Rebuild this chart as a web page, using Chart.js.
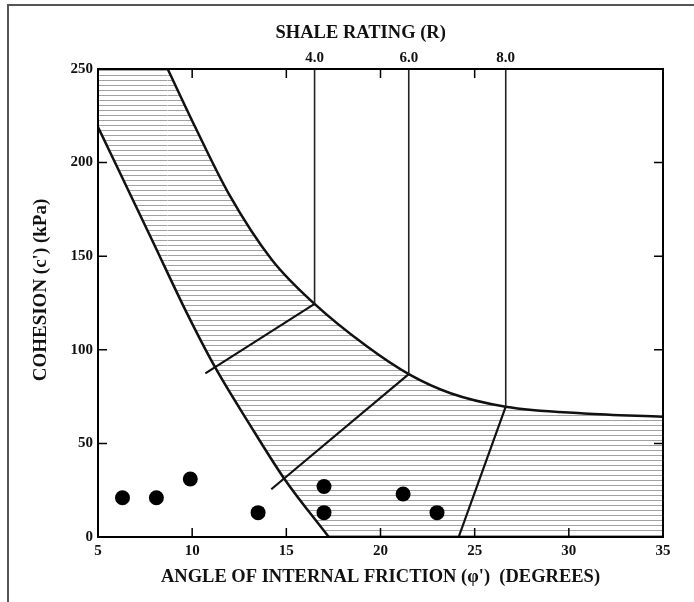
<!DOCTYPE html>
<html>
<head>
<meta charset="utf-8">
<script src="https://cdn.jsdelivr.net/npm/chart.js@4.4.1/dist/chart.umd.min.js"></script>
<style>
  html, body { margin: 0; padding: 0; background: #fff; }
  #wrap { width: 694px; height: 602px; }
</style>
</head>
<body>
<div id="wrap"><canvas id="shaleChart" width="694" height="602"></canvas></div>
<script>
// axes: angle of internal friction (deg) vs cohesion (kPa)
const xTicks = [5, 10, 15, 20, 25, 30, 35];
const yTicks = [0, 50, 100, 150, 200, 250];
const topTicks = [10, 15, 20, 25];

// test results (black dots)
const samplePhi = [6.3, 8.1, 9.9, 13.5, 17.0, 17.0, 21.2, 23.0];
const sampleC = [21, 21, 31, 13, 27, 13, 23, 13];

// upper limit of the hatched band
const upperPhi = [8.7, 10.16, 11.93, 14.24, 16.5, 19.29, 21.5, 23.72, 26.65, 30.8, 35.0];
const upperC = [250, 219, 183.6, 148, 124.5, 101.7, 87, 76.8, 69.6, 66, 64.3];

// lower limit of the hatched band
const lowerPhi = [5.0, 7.9, 9.7, 11.2, 13.0, 14.9, 17.25];
const lowerC = [219, 158, 120, 91, 61, 31, 0];

// shale rating lines
const shaleLabels = ['4.0', '6.0', '8.0'];
const shalePhi = [16.5, 21.5, 26.65];
const shaleC = [124.5, 87, 69.6];
const rayEndPhi = [10.7, 14.2, 24.15];
const rayEndC = [87.4, 25.5, 0];

const ink = '#111';
const serif = '"Liberation Serif", "Times New Roman", serif';

function hatchPattern() {
  const c = document.createElement('canvas');
  c.width = 8; c.height = 5;
  const g = c.getContext('2d');
  g.fillStyle = 'rgba(70,70,70,0.5)';
  g.fillRect(0, 0, 8, 1);
  return g.createPattern(c, 'repeat');
}
const hatch = hatchPattern();

const datasets = [
  // dots on top
  {
    type: 'scatter', order: 0,
    data: samplePhi.map((x, i) => ({x, y: sampleC[i]})),
    pointRadius: 7.5, pointBackgroundColor: '#000', pointBorderWidth: 0
  },
  // upper curve, hatched below
  {
    type: 'line', order: 10,
    data: upperPhi.map((x, i) => ({x, y: upperC[i]})),
    borderColor: ink, borderWidth: 2.5, pointRadius: 0,
    cubicInterpolationMode: 'monotone',
    backgroundColor: hatch, fill: 'start'
  },
  // corner left of the upper curve, hatched too
  {
    type: 'line', order: 11,
    data: [{x: 5, y: 250}, {x: upperPhi[0], y: 250}],
    borderWidth: 0, borderColor: 'rgba(0,0,0,0)', pointRadius: 0,
    backgroundColor: hatch, fill: 'start'
  },
  // lower curve, blank below
  {
    type: 'line', order: 9,
    data: lowerPhi.map((x, i) => ({x, y: lowerC[i]})),
    borderColor: ink, borderWidth: 2.5, pointRadius: 0,
    cubicInterpolationMode: 'monotone',
    backgroundColor: '#fff', fill: 'start'
  }
];

shalePhi.forEach((x, i) => {
  datasets.push({
    type: 'line', order: 2,
    data: [{x, y: 250}, {x, y: shaleC[i]}],
    borderColor: '#222', borderWidth: 1.6, pointRadius: 0, fill: false
  });
  datasets.push({
    type: 'line', order: 2,
    data: [{x, y: shaleC[i]}, {x: rayEndPhi[i], y: rayEndC[i]}],
    borderColor: ink, borderWidth: 2.2, pointRadius: 0, fill: false
  });
});

const extras = {
  id: 'extras',
  beforeDraw(chart) {
    const ctx = chart.ctx;
    ctx.save();
    ctx.strokeStyle = '#555';
    ctx.lineWidth = 2;
    ctx.beginPath();
    ctx.moveTo(8, 602);
    ctx.lineTo(8, 5);
    ctx.lineTo(694, 5);
    ctx.stroke();
    ctx.restore();
  },
  afterDatasetsDraw(chart) {
    const {ctx, chartArea: a, scales} = chart;
    ctx.save();
    ctx.strokeStyle = '#000';
    ctx.lineWidth = 2;
    ctx.strokeRect(a.left, a.top, a.right - a.left, a.bottom - a.top);
    ctx.lineWidth = 1.5;
    ctx.beginPath();
    xTicks.slice(1, -1).forEach(v => {
      const px = scales.x.getPixelForValue(v);
      ctx.moveTo(px, a.bottom); ctx.lineTo(px, a.bottom - 9);
    });
    topTicks.forEach(v => {
      const px = scales.x2.getPixelForValue(v);
      ctx.moveTo(px, a.top); ctx.lineTo(px, a.top + 9);
    });
    yTicks.slice(1, -1).forEach(v => {
      const py = scales.y.getPixelForValue(v);
      ctx.moveTo(a.left, py); ctx.lineTo(a.left + 9, py);
      ctx.moveTo(a.right, py); ctx.lineTo(a.right - 9, py);
    });
    ctx.stroke();

    ctx.fillStyle = ink;
    ctx.textAlign = 'center';
    ctx.textBaseline = 'middle';
    ctx.font = 'bold 18.5px ' + serif;
    ctx.fillText('SHALE RATING (R)', a.left + (a.right - a.left) * 0.465, 33);
    ctx.translate(41, 290);
    ctx.rotate(-Math.PI / 2);
    ctx.font = 'bold 19px ' + serif;
    ctx.fillText("COHESION (c') (kPa)", 0, 0);
    ctx.restore();
  }
};

new Chart(document.getElementById('shaleChart'), {
  type: 'scatter',
  data: { datasets },
  options: {
    responsive: false,
    animation: false,
    layout: { padding: 0 },
    plugins: { legend: { display: false }, tooltip: { enabled: false } },
    scales: {
      x: {
        type: 'linear', position: 'bottom', min: 5, max: 35,
        afterBuildTicks: s => { s.ticks = xTicks.map(v => ({value: v})); },
        afterFit: s => { s.height = 65; },
        grid: { drawOnChartArea: false, drawTicks: false },
        border: { color: '#000', width: 2 },
        ticks: { color: ink, padding: 5, font: { family: serif, size: 15, weight: 'bold' } },
        title: {
          display: true,
          text: "ANGLE OF INTERNAL FRICTION (\u03c6')  (DEGREES)",
          color: ink,
          font: { family: serif, size: 18.5, weight: 'bold' },
          padding: { top: 0, bottom: 14 }
        }
      },
      x2: {
        type: 'linear', position: 'top', min: 5, max: 35,
        afterBuildTicks: s => { s.ticks = shalePhi.map(v => ({value: v})); },
        afterFit: s => { s.height = 69; },
        grid: { drawOnChartArea: false, drawTicks: false },
        border: { color: '#000', width: 2 },
        ticks: {
          color: ink, padding: 2, autoSkip: false,
          font: { family: serif, size: 15, weight: 'bold' },
          callback: (v, i) => shaleLabels[i]
        }
      },
      y: {
        type: 'linear', position: 'left', min: 0, max: 250,
        afterBuildTicks: s => { s.ticks = yTicks.map(v => ({value: v})); },
        afterFit: s => { s.width = 98; },
        grid: { drawOnChartArea: false, drawTicks: false },
        border: { color: '#000', width: 2 },
        ticks: { color: ink, padding: 5, font: { family: serif, size: 15, weight: 'bold' } }
      },
      y2: {
        type: 'linear', position: 'right', min: 0, max: 250,
        afterFit: s => { s.width = 31; },
        grid: { drawOnChartArea: false, drawTicks: false },
        border: { color: '#000', width: 2 },
        ticks: { display: false }
      }
    }
  },
  plugins: [extras]
});
</script>
</body>
</html>
